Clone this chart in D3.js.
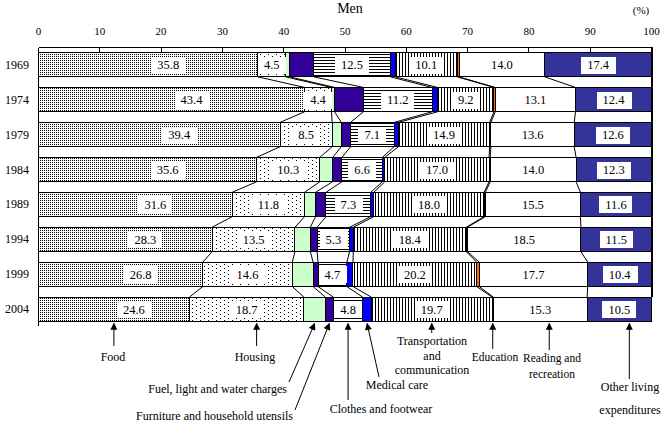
<!DOCTYPE html>
<html>
<head>
<meta charset="utf-8">
<script src="https://cdn.jsdelivr.net/npm/d3@7"></script>
<style>
  html, body { margin: 0; padding: 0; background: #fff; }
  svg { display: block; }
</style>
</head>
<body>
<svg id="chart" width="665" height="430" font-family="'Liberation Serif', 'DejaVu Serif', serif"></svg>
<script>
// ---------- DATA ----------
const years = ["1969", "1974", "1979", "1984", "1989", "1994", "1999", "2004"];
const categories = [
  "Food", "Housing", "Fuel, light and water charges", "Furniture and household utensils",
  "Clothes and footwear", "Medical care", "Transportation and communication",
  "Education", "Reading and recreation", "Other living expenditures"
];
const food      = [35.8, 43.4, 39.4, 35.6, 31.6, 28.3, 26.8, 24.6];
const housing   = [4.5, 4.4, 8.5, 10.3, 11.8, 13.5, 14.6, 18.7];
const fuel      = [0.7, 0.5, 1.5, 2.1, 1.8, 2.5, 3.4, 3.5];
const furniture = [3.9, 4.7, 1.5, 1.5, 1.7, 1.1, 0.8, 1.3];
const clothes   = [12.5, 11.2, 7.1, 6.6, 7.3, 5.3, 4.7, 4.8];
const medical   = [0.8, 0.9, 0.7, 0.4, 0.5, 0.6, 1.0, 1.4];
const transport = [10.1, 9.2, 14.9, 17.0, 18.0, 18.4, 20.2, 19.7];
const education = [0.3, 0.2, 0.2, 0.2, 0.2, 0.2, 0.4, 0.2];
const reading   = [14.0, 13.1, 13.6, 14.0, 15.5, 18.5, 17.7, 15.3];
const other     = [17.4, 12.4, 12.6, 12.3, 11.6, 11.5, 10.4, 10.5];
const seriesValues = [food, housing, fuel, furniture, clothes, medical, transport, education, reading, other];
const labelled = [true, true, false, false, true, false, true, false, true, true];
const xTicks = [0, 10, 20, 30, 40, 50, 60, 70, 80, 90, 100];
const title = "Men";
const unit = "(%)";

// ---------- STYLE ----------
const fills = ["url(#pFood)", "url(#pHousing)", "#ccffcc", "#330099", "url(#pClothes)",
               "#0000ff", "url(#pTransport)", "#ff6600", "#ffffff", "#333399"];

const svg = d3.select("#chart");
const defs = svg.append("defs");

function pattern(id, w, h, draw) {
  const p = defs.append("pattern").attr("id", id).attr("patternUnits", "userSpaceOnUse")
    .attr("width", w).attr("height", h);
  p.append("rect").attr("width", w).attr("height", h).attr("fill", "#fff");
  draw(p);
}
pattern("pFood", 2, 2, p => p.append("rect").attr("x", 0).attr("y", 0).attr("width", 1).attr("height", 1).attr("fill", "#000"));
pattern("pHousing", 8, 4, p => {
  p.append("rect").attr("x", 0).attr("y", 0).attr("width", 1).attr("height", 1).attr("fill", "#000");
  p.append("rect").attr("x", 4).attr("y", 2).attr("width", 1).attr("height", 1).attr("fill", "#000");
});
pattern("pClothes", 4, 3, p => p.append("rect").attr("x", 0).attr("y", 0).attr("width", 4).attr("height", 1).attr("fill", "#000"));
pattern("pTransport", 3, 4, p => p.append("rect").attr("x", 0).attr("y", 0).attr("width", 1).attr("height", 4).attr("fill", "#000"));

defs.append("marker").attr("id", "arrow").attr("viewBox", "0 0 10 10")
  .attr("refX", 9).attr("refY", 5).attr("markerWidth", 8).attr("markerHeight", 7)
  .attr("markerUnits", "userSpaceOnUse").attr("orient", "auto")
  .append("path").attr("d", "M0,0 L10,5 L0,10 Z").attr("fill", "#000");

// ---------- SCALES ----------
const x = d3.scaleLinear().domain([0, 100]).range([38.5, 651.5]);
const y = d3.scaleBand().domain(years).range([52.5, 321.5]).paddingInner(0.303).paddingOuter(0);

const table = years.map((yr, i) => {
  const row = { year: yr };
  categories.forEach((c, k) => row[c] = seriesValues[k][i]);
  return row;
});
const stack = d3.stack().keys(categories).offset(d3.stackOffsetExpand);
const stacked = stack(table);

const axisTop = 47.5;
const g = svg.append("g").attr("shape-rendering", "crispEdges");

g.append("line").attr("x1", x(0)).attr("x2", x(100) + 1).attr("y1", axisTop).attr("y2", axisTop).attr("stroke", "#000");
g.append("line").attr("x1", x(100) + 1).attr("x2", x(100) + 1).attr("y1", axisTop).attr("y2", y(years[years.length - 1]))
  .attr("stroke", "#000");

// series lines between bars
stacked.forEach(s => {
  for (let i = 0; i < years.length - 1; i++) {
    const a = s[i][1] * 100, b = s[i + 1][1] * 100;
    g.append("line")
      .attr("x1", x(a)).attr("y1", y(years[i]) + y.bandwidth())
      .attr("x2", x(b)).attr("y2", y(years[i + 1]))
      .attr("stroke", "#000").attr("stroke-width", 1).attr("shape-rendering", "auto");
  }
});

// bars
stacked.forEach((s, k) => {
  g.append("g").selectAll("rect").data(s).join("rect")
    .attr("x", d => x(d[0] * 100))
    .attr("y", d => y(d.data.year))
    .attr("width", d => x(d[1] * 100) - x(d[0] * 100))
    .attr("height", y.bandwidth())
    .attr("fill", fills[k])
    .attr("stroke", "#000").attr("stroke-width", 1);
});

g.append("line").attr("x1", x(0)).attr("x2", x(0)).attr("y1", axisTop).attr("y2", 326).attr("stroke", "#000");

g.append("g").selectAll("line").data(xTicks).join("line")
  .attr("x1", d => x(d)).attr("x2", d => x(d)).attr("y1", axisTop).attr("y2", axisTop + 5)
  .attr("stroke", "#000");

svg.append("g").selectAll("text").data(xTicks).join("text")
  .attr("x", d => x(d)).attr("y", 35)
  .attr("text-anchor", "middle").attr("font-size", 11).text(d => d);

svg.append("text").attr("x", 350).attr("y", 13).attr("text-anchor", "middle").attr("font-size", 14).text(title);
svg.append("text").attr("x", 641).attr("y", 14).attr("text-anchor", "middle").attr("font-size", 11).text(unit);

svg.append("g").selectAll("text").data(years).join("text")
  .attr("x", 29).attr("y", d => y(d) + y.bandwidth() / 2 + 4)
  .attr("text-anchor", "end").attr("font-size", 12).text(d => d);

// data labels
const lg = svg.append("g");
stacked.forEach((s, k) => {
  if (!labelled[k]) return;
  s.forEach((d, i) => {
    const cx = (x(d[0] * 100) + x(d[1] * 100)) / 2 + (k === 0 ? 20 : 0);
    const cy = y(d.data.year) + y.bandwidth() / 2;
    const txt = seriesValues[k][i].toFixed(1);
    const box = lg.append("rect");
    const t = lg.append("text").attr("x", cx).attr("y", cy + 4.5)
      .attr("text-anchor", "middle").attr("font-size", 12.5).text(txt);
    const bb = t.node().getBBox();
    box.attr("x", Math.round(bb.x - 6)).attr("y", Math.round(cy - 8))
      .attr("width", Math.round(bb.width + 12)).attr("height", 17)
      .attr("fill", "#fff");
  });
});

// ---------- ANNOTATIONS ----------
const last = years.length - 1;
const barBottom = y(years[last]) + y.bandwidth();
const annotations = [
  { lines: ["Food"], tx: 113, ty: 361, anchor: "middle", sx: null, sy: 346, dtip: 0, lh: 15 },
  { lines: ["Housing"], tx: 255, ty: 361, anchor: "middle", sx: null, sy: 346, dtip: 10, lh: 15 },
  { lines: ["Fuel, light and water charges"], tx: 287, ty: 393, anchor: "end", sx: 289, sy: 382, dtip: 0, lh: 15 },
  { lines: ["Furniture and household utensils"], tx: 293, ty: 420, anchor: "end", sx: 295, sy: 410, dtip: 0, lh: 15 },
  { lines: ["Clothes and footwear"], tx: 381, ty: 413, anchor: "middle", sx: null, sy: 400, dtip: 0, lh: 15 },
  { lines: ["Medical care"], tx: 397, ty: 389, anchor: "middle", sx: 379, sy: 377, dtip: 0, lh: 15 },
  { lines: ["Transportation", "and", "communication"], tx: 432, ty: 345, anchor: "middle", sx: null, sy: 333, dtip: 0, lh: 14.5 },
  { lines: ["Education"], tx: 495, ty: 361, anchor: "middle", sx: null, sy: 349, dtip: 0, lh: 15 },
  { lines: ["Reading and", "recreation"], tx: 552, ty: 362, anchor: "middle", sx: null, sy: 350, dtip: 9, lh: 16 },
  { lines: ["Other living", "expenditures"], tx: 630, ty: 391, anchor: "middle", sx: null, sy: 379, dtip: 10, lh: 23 }
];
const ag = svg.append("g");
annotations.forEach((a, k) => {
  const s = stacked[k][last];
  const tipX = (x(s[0] * 100) + x(s[1] * 100)) / 2 + a.dtip;
  const sx = a.sx === null ? tipX : a.sx;
  ag.append("line").attr("x1", sx).attr("y1", a.sy).attr("x2", tipX).attr("y2", barBottom + 2)
    .attr("stroke", "#000").attr("stroke-width", 1).attr("marker-end", "url(#arrow)");
  const t = ag.append("text").attr("x", a.tx).attr("y", a.ty).attr("text-anchor", a.anchor)
    .attr("font-size", k === 7 || k === 8 ? 11.5 : 12);
  a.lines.forEach((ln, j) => t.append("tspan").attr("x", a.tx).attr("dy", j === 0 ? 0 : a.lh).text(ln));
});
</script>
</body>
</html>
